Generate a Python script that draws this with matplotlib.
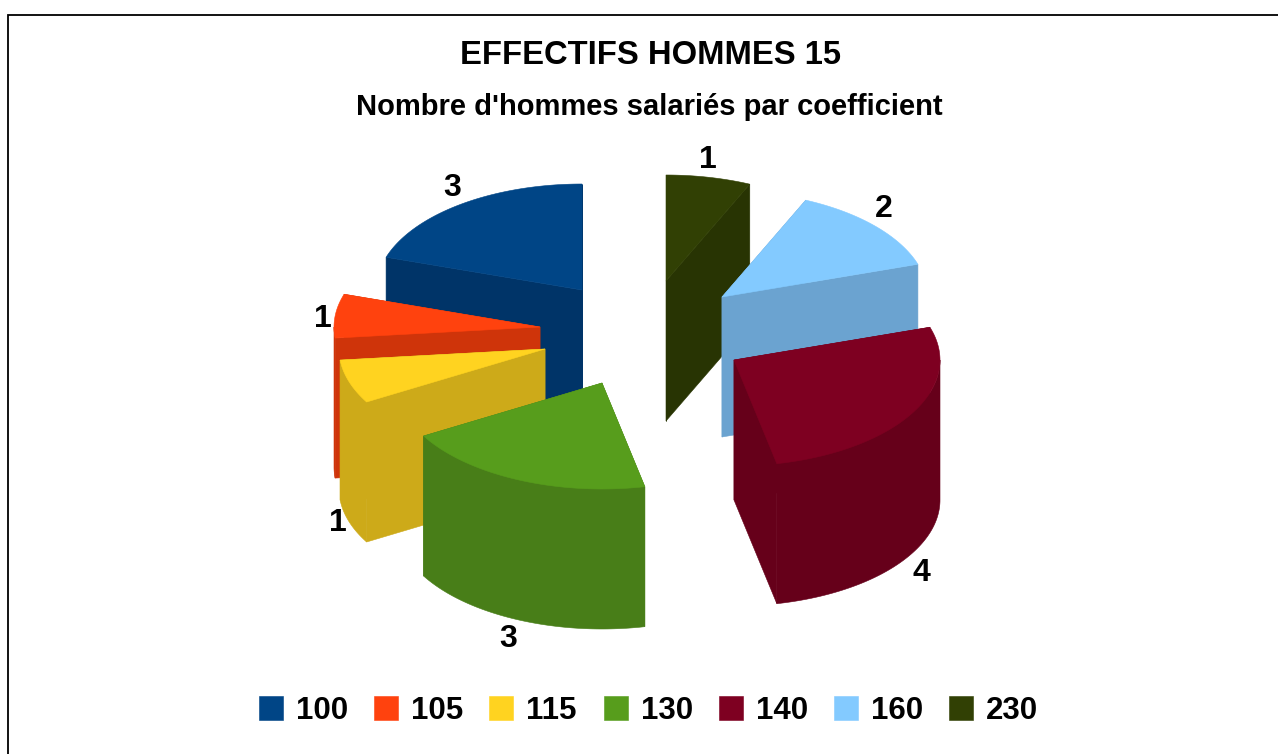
import numpy as np
import matplotlib
matplotlib.use('Agg')
import matplotlib.pyplot as plt
from matplotlib.patches import Polygon, Rectangle

plt.rcParams['font.family'] = ['Liberation Sans', 'DejaVu Sans']

# data
coefficients = ['100', '105', '115', '130', '140', '160', '230']
effectifs = [3, 1, 1, 3, 4, 2, 1]
colors = ['#004586', '#ff420e', '#ffd320', '#579d1c', '#7e0021', '#83caff', '#314004']
side_colors = ['#003468', '#cf340a', '#cdaa19', '#487e18', '#66001a', '#6ba3d0', '#283403']

# layout, in pixels of the picture
apex = [(582, 290), (540, 327), (545, 349), (602, 383), (734, 360), (722, 297), (666, 281)]
label_pos = [(452, 188), (323, 319), (338, 523), (508, 639), (921, 573), (884, 209), (708, 160)]
draw_order = [6, 5, 4, 0, 1, 2, 3]
rx, ry, depth = 206, 106, 140

fig = plt.figure(figsize=(12.78, 7.54), dpi=100)
ax = fig.add_axes([0, 0, 1, 1])
ax.set_xlim(0, 1278)
ax.set_ylim(754, 0)
ax.axis('off')

# cadre: only top and left are visible
ax.plot([7.5, 7.5, 1278], [754, 14.5, 14.5], color='black', lw=1.3, solid_joinstyle='miter')


def rim(cx, cy, a0, a1):
    t = np.radians(np.linspace(a0, a1, max(int(abs(a1 - a0)) * 2, 2)))
    return np.column_stack([cx + rx * np.cos(t), cy - ry * np.sin(t)])


def fill(points, color):
    ax.add_patch(Polygon(points, closed=True, facecolor=color, edgecolor=color, lw=0.4))


# angles go counter clockwise from 12 o'clock
total = sum(effectifs)
edges = 90 + np.cumsum([0] + effectifs) * 360 / total

for i in draw_order:
    cx, cy = apex[i]
    a0, a1 = edges[i], edges[i + 1]
    # cut faces
    for a in (a0, a1):
        p = rim(cx, cy, a, a)[0]
        fill([(cx, cy), p, (p[0], p[1] + depth), (cx, cy + depth)], side_colors[i])
    # outer wall, only the front half of the ellipse
    w0, w1 = max(a0, 180), min(a1, 360)
    if w1 > w0:
        top = rim(cx, cy, w0, w1)
        bottom = top[::-1] + [0, depth]
        fill(np.vstack([top, bottom]), side_colors[i])
    # top
    fill(np.vstack([[(cx, cy)], rim(cx, cy, a0, a1)]), colors[i])

for (x, y), v in zip(label_pos, effectifs):
    ax.text(x, y, str(v), fontsize=23, fontweight='bold', ha='center', va='center')

ax.text(650, 55, 'EFFECTIFS HOMMES 15', fontsize=23.6, fontweight='bold', ha='center', va='center')
ax.text(649, 107, "Nombre d'hommes salariés par coefficient", fontsize=21,
        fontweight='bold', ha='center', va='center')

# legende
for k, (name, c) in enumerate(zip(coefficients, colors)):
    x = 259 + k * 115
    ax.add_patch(Rectangle((x, 696), 24, 24, facecolor=c, edgecolor=c, lw=0.4))
    ax.text(x + 37, 711, name, fontsize=22.5, fontweight='bold', ha='left', va='center')

fig.savefig('out.png', dpi=100)
